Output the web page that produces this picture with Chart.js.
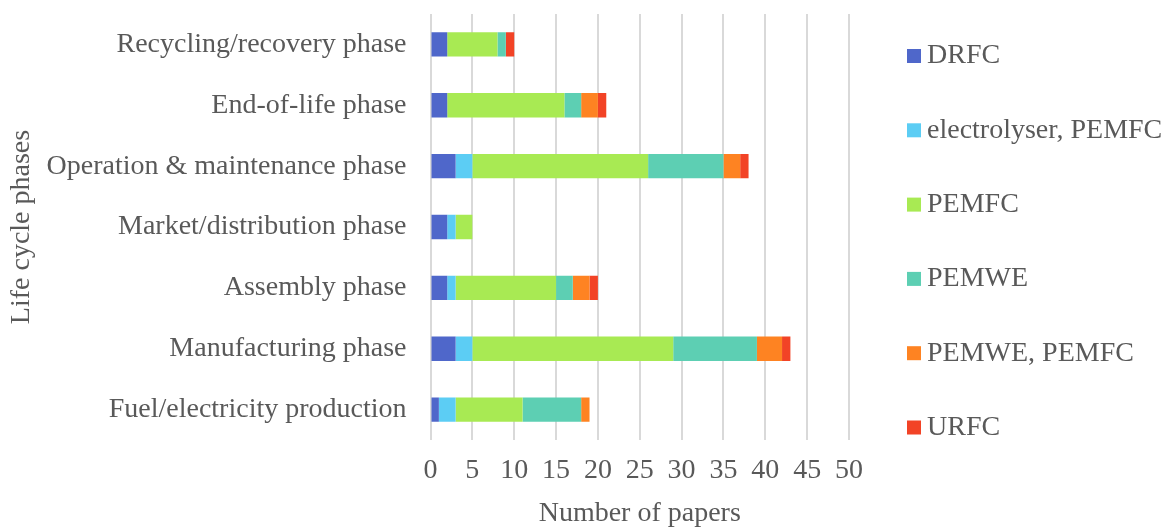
<!DOCTYPE html>
<html>
<head>
<meta charset="utf-8">
<script src="https://cdn.jsdelivr.net/npm/chart.js@4/dist/chart.umd.min.js"></script>
<style>
  html, body { margin: 0; padding: 0; background: #ffffff; }
  #wrap { position: relative; width: 1172px; height: 528px; }
</style>
</head>
<body>
<div id="wrap"><canvas id="chart" width="1172" height="528"></canvas></div>
<script>
// Life cycle phases, listed top to bottom
const phases = [
  'Recycling/recovery phase',
  'End-of-life phase',
  'Operation & maintenance phase',
  'Market/distribution phase',
  'Assembly phase',
  'Manufacturing phase',
  'Fuel/electricity production'
];

// Number of papers per technology, same order as phases
const drfc            = [2, 2, 3, 2, 2, 3, 1];
const electrolyserFc  = [0, 0, 2, 1, 1, 2, 2];
const pemfc           = [6, 14, 21, 2, 12, 24, 8];
const pemwe           = [1, 2, 9, 0, 2, 10, 7];
const pemwePemfc      = [0, 2, 2, 0, 2, 3, 1];
const urfc            = [1, 1, 1, 0, 1, 1, 0];

const seriesNames = ['DRFC', 'electrolyser, PEMFC', 'PEMFC', 'PEMWE', 'PEMWE, PEMFC', 'URFC'];
const seriesValues = [drfc, electrolyserFc, pemfc, pemwe, pemwePemfc, urfc];
const seriesColors = ['#4f67ca', '#5ccdf4', '#a8ea53', '#5dcfb3', '#fe8322', '#f24326'];

const xTicks = [0, 5, 10, 15, 20, 25, 30, 35, 40, 45, 50];

const FONT = "'Liberation Serif', 'Times New Roman', serif";
const TEXT = '#595959';

// Legend drawn as a vertical list to the right of the plot
const sideLegend = {
  id: 'sideLegend',
  afterDraw(chart) {
    const ctx = chart.ctx;
    ctx.save();
    ctx.font = '28px ' + FONT;
    ctx.textBaseline = 'middle';
    ctx.textAlign = 'left';
    chart.data.datasets.forEach((ds, i) => {
      const cy = 56 + i * 74.3;
      ctx.fillStyle = ds.backgroundColor;
      ctx.fillRect(907, cy - 7, 14, 14);
      ctx.fillStyle = TEXT;
      ctx.fillText(ds.label, 927, cy);
    });
    ctx.restore();
  }
};

new Chart(document.getElementById('chart'), {
  type: 'bar',
  data: {
    labels: phases,
    datasets: seriesNames.map((name, i) => ({
      label: name,
      data: seriesValues[i],
      backgroundColor: seriesColors[i],
      borderWidth: 0,
      categoryPercentage: 1,
      barPercentage: 0.4
    }))
  },
  options: {
    indexAxis: 'y',
    responsive: false,
    animation: false,
    layout: { padding: { left: 8, top: 14, right: 323, bottom: 0 } },
    plugins: {
      legend: { display: false },
      tooltip: { enabled: false }
    },
    scales: {
      x: {
        stacked: true,
        min: 0,
        max: 50,
        afterBuildTicks(scale) {
          scale.ticks = xTicks.map(v => ({ value: v }));
        },
        afterFit(scale) {
          scale.height = 88;
          scale.paddingLeft = 0;
          scale.paddingRight = 0;
        },
        grid: { color: '#d9d9d9', lineWidth: 2, drawTicks: false },
        border: { display: false },
        ticks: { color: TEXT, font: { family: FONT, size: 28 }, padding: 14, maxRotation: 0 },
        title: {
          display: true,
          text: 'Number of papers',
          color: TEXT,
          font: { family: FONT, size: 28, lineHeight: 1 },
          padding: 0
        }
      },
      y: {
        stacked: true,
        afterFit(scale) {
          scale.width = 422.5;
          scale.paddingTop = 0;
          scale.paddingBottom = 0;
        },
        grid: { display: false, drawTicks: false },
        border: { display: false },
        ticks: { color: TEXT, font: { family: FONT, size: 28 }, padding: 24 },
        title: {
          display: true,
          text: 'Life cycle phases',
          color: TEXT,
          font: { family: FONT, size: 28, lineHeight: 1 },
          padding: 0
        }
      }
    }
  },
  plugins: [sideLegend]
});
</script>
</body>
</html>
